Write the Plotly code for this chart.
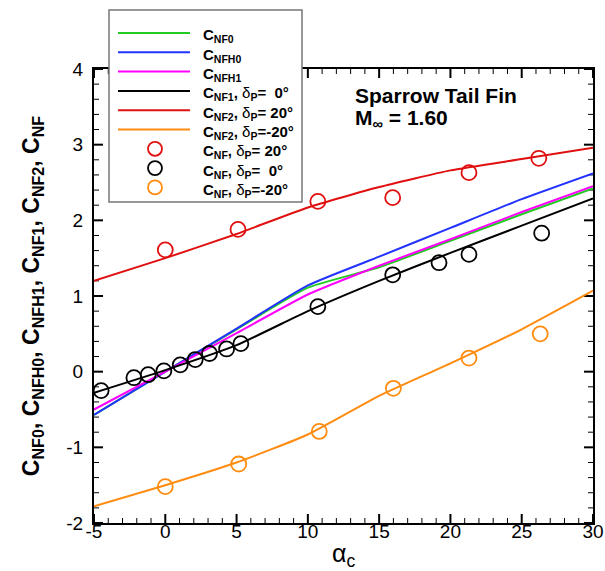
import plotly.graph_objects as go

# ---------------- data ----------------
alpha_line = [-5, 0, 5, 10, 15, 20, 25, 30]
cnf0 = [-0.57, 0.0, 0.56, 1.11, 1.38, 1.73, 2.08, 2.42]
cnfh0 = [-0.57, 0.0, 0.57, 1.14, 1.52, 1.90, 2.28, 2.62]
cnfh1 = [-0.50, 0.0, 0.51, 1.02, 1.40, 1.75, 2.11, 2.45]
cnf1_d0 = [-0.28, 0.02, 0.35, 0.80, 1.20, 1.57, 1.93, 2.29]
cnf2_d20 = [1.20, 1.50, 1.82, 2.17, 2.44, 2.66, 2.81, 2.96]
cnf2_dm20 = [-1.78, -1.50, -1.20, -0.83, -0.32, 0.11, 0.56, 1.07]

exp_alpha_d20 = [0.0, 5.1, 10.7, 15.95, 21.3, 26.2]
exp_cnf_d20 = [1.61, 1.88, 2.25, 2.30, 2.63, 2.82]
exp_alpha_d0 = [-4.5, -2.2, -1.2, -0.1, 1.05, 2.1, 3.1, 4.3, 5.3, 10.7, 15.95, 19.2, 21.3, 26.4]
exp_cnf_d0 = [-0.25, -0.08, -0.04, 0.01, 0.09, 0.16, 0.24, 0.30, 0.37, 0.86, 1.28, 1.44, 1.55, 1.83]
exp_alpha_dm20 = [0.0, 5.15, 10.8, 16.0, 21.3, 26.3]
exp_cnf_dm20 = [-1.52, -1.22, -0.79, -0.22, 0.18, 0.50]

x_range = [-5, 30]
y_range = [-2, 4]
x_ticks = [-5, 0, 5, 10, 15, 20, 25, 30]
y_ticks = [-2, -1, 0, 1, 2, 3, 4]
x_minor_step = 1
y_minor_step = 0.2

GREEN, BLUE, MAGENTA, BLACK, RED, ORANGE = "#22cc22", "#2233ff", "#ff00ff", "#000000", "#e01010", "#ff8c10"

legend_items = [
    ("line", GREEN, "<b>C<sub>NF0</sub></b>"),
    ("line", BLUE, "<b>C<sub>NFH0</sub></b>"),
    ("line", MAGENTA, "<b>C<sub>NFH1</sub></b>"),
    ("line", BLACK, "<b>C<sub>NF1</sub>, </b>δ<sub><b>P</b></sub><b>=  0°</b>"),
    ("line", RED, "<b>C<sub>NF2</sub>, </b>δ<sub><b>P</b></sub><b>= 20°</b>"),
    ("line", ORANGE, "<b>C<sub>NF2</sub>, </b>δ<sub><b>P</b></sub><b>=-20°</b>"),
    ("circle", RED, "<b>C<sub>NF</sub>, </b>δ<sub><b>P</b></sub><b>= 20°</b>"),
    ("circle", BLACK, "<b>C<sub>NF</sub>, </b>δ<sub><b>P</b></sub><b>=  0°</b>"),
    ("circle", ORANGE, "<b>C<sub>NF</sub>, </b>δ<sub><b>P</b></sub><b>=-20°</b>"),
]

# ---------------- figure ----------------
W, H = 605, 571
L, R, T, B = 94, 12, 69, 48
pw, ph = W - L - R, H - T - B
ppx = pw / (x_range[1] - x_range[0])   # pixels per x unit
ppy = ph / (y_range[1] - y_range[0])   # pixels per y unit

def px_x(p):
    return (p - L) / pw

def px_y(p):
    return 1 - (p - T) / ph

fig = go.Figure()

# inward tick marks on all four sides (major + minor), generated from the axis ranges
MAJ, MIN = 9, 5
tick_paths = {True: ([], []), False: ([], [])}
nx = int(round((x_range[1] - x_range[0]) / x_minor_step))
for i in range(nx + 1):
    v = x_range[0] + i * x_minor_step
    major = v in x_ticks
    d = (MAJ if major else MIN) / ppy
    xs, ys = tick_paths[major]
    xs += [v, v, None, v, v, None]
    ys += [y_range[0], y_range[0] + d, None, y_range[1], y_range[1] - d, None]
ny = int(round((y_range[1] - y_range[0]) / y_minor_step))
for i in range(ny + 1):
    v = round(y_range[0] + i * y_minor_step, 6)
    major = any(abs(v - t) < 1e-9 for t in y_ticks)
    d = (MAJ if major else MIN) / ppx
    xs, ys = tick_paths[major]
    xs += [x_range[0], x_range[0] + d, None, x_range[1], x_range[1] - d, None]
    ys += [v, v, None, v, v, None]
for major in (False, True):
    xs, ys = tick_paths[major]
    fig.add_trace(go.Scatter(x=xs, y=ys, mode="lines", line=dict(color="black", width=2 if major else 1),
                             showlegend=False, hoverinfo="skip", cliponaxis=False))

for ys, col in [(cnf0, GREEN), (cnfh0, BLUE), (cnfh1, MAGENTA), (cnf1_d0, BLACK), (cnf2_d20, RED), (cnf2_dm20, ORANGE)]:
    fig.add_trace(go.Scatter(x=alpha_line, y=ys, mode="lines", line=dict(color=col, width=2, shape="spline", smoothing=0.5),
                             showlegend=False, hoverinfo="skip"))
for xs, ys, col in [(exp_alpha_d20, exp_cnf_d20, RED), (exp_alpha_d0, exp_cnf_d0, BLACK), (exp_alpha_dm20, exp_cnf_dm20, ORANGE)]:
    fig.add_trace(go.Scatter(x=xs, y=ys, mode="markers",
                             marker=dict(symbol="circle-open", size=15, color=col, line=dict(width=1.8, color=col)),
                             showlegend=False, hoverinfo="skip"))

font_main = "Liberation Sans, Arial, sans-serif"
fig.update_layout(
    xaxis=dict(range=x_range, tickmode="array", tickvals=x_ticks, ticktext=[str(v) for v in x_ticks], ticks="",
               showline=True, linecolor="black", linewidth=2, mirror=True, showgrid=False, zeroline=False,
               automargin=False, ticklabelstandoff=-10,
               tickfont=dict(family=font_main, size=19, color="black")),
    yaxis=dict(range=y_range, tickmode="array", tickvals=y_ticks, ticktext=[str(v) for v in y_ticks], ticks="",
               showline=True, linecolor="black", linewidth=2, mirror=True, showgrid=False, zeroline=False,
               automargin=False, ticklabelstandoff=5,
               tickfont=dict(family=font_main, size=19, color="black"),
               title=dict(text="<b>C<sub>NF0</sub>, C<sub>NFH0</sub>, C<sub>NFH1</sub>, C<sub>NF1</sub>, C<sub>NF2</sub>, C<sub>NF</sub></b>",
                          font=dict(family=font_main, size=23, color="black"), standoff=20)),
)

shapes = []
annotations = []

# legend box
bx0, bx1, by0, by1 = 109, 302, 10, 202
shapes.append(dict(type="rect", xref="paper", yref="paper", x0=px_x(bx0), x1=px_x(bx1), y0=px_y(by1), y1=px_y(by0),
                   fillcolor="white", line=dict(color="#777777", width=1.5), layer="above"))
row0, dy = 33, 19.3
for i, (kind, col, label) in enumerate(legend_items):
    yc = row0 + i * dy
    if kind == "line":
        shapes.append(dict(type="line", xref="paper", yref="paper", x0=px_x(118), x1=px_x(190), y0=px_y(yc), y1=px_y(yc),
                           line=dict(color=col, width=2), layer="above"))
    else:
        shapes.append(dict(type="circle", xref="paper", yref="paper", xsizemode="pixel", ysizemode="pixel",
                           xanchor=px_x(155), yanchor=px_y(yc), x0=-7, x1=7, y0=-7, y1=7,
                           line=dict(color=col, width=1.8), layer="above"))
    annotations.append(dict(xref="paper", yref="paper", x=px_x(201), y=px_y(yc + 3), xanchor="left", yanchor="middle",
                            text=label, showarrow=False, font=dict(family=font_main, size=15, color="black")))

annotations.append(dict(xref="paper", yref="paper", x=px_x(353), y=px_y(95), xanchor="left", yanchor="middle",
                        text="<b>Sparrow Tail Fin</b>", showarrow=False, font=dict(family=font_main, size=21, color="black")))
annotations.append(dict(xref="paper", yref="paper", x=px_x(353), y=px_y(119), xanchor="left", yanchor="middle",
                        text="<b>M<sub>∞</sub> = 1.60</b>", showarrow=False, font=dict(family=font_main, size=21, color="black")))
# x-axis title (partly cut by the page bottom, as in the reference)
annotations.append(dict(xref="paper", yref="paper", x=px_x(343), y=px_y(555), xanchor="center", yanchor="middle",
                        text="α<sub>c</sub>", showarrow=False, font=dict(family=font_main, size=25, color="black")))
annotations.append(dict(xref="paper", yref="paper", x=px_x(0), y=px_y(6), xanchor="left", yanchor="bottom",
                        text="load is evident.", showarrow=False,
                        font=dict(family="Liberation Serif, Times New Roman, serif", size=21, color="black")))

fig.update_layout(width=W, height=H, margin=dict(l=L, r=R, t=T, b=B, pad=0),
                  paper_bgcolor="white", plot_bgcolor="white", shapes=shapes, annotations=annotations,
                  showlegend=False)

fig.write_html("out.html")
